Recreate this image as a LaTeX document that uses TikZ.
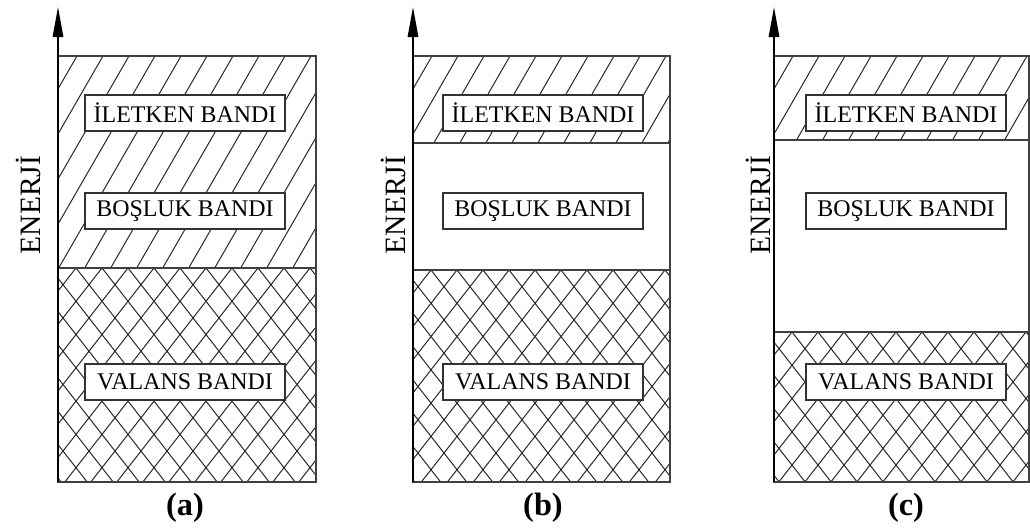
\documentclass[tikz,border=0pt]{standalone}
\usepackage{fontspec}
\setmainfont{Liberation Serif}
\usetikzlibrary{arrows.meta}

\begin{document}
\begin{tikzpicture}[
			x=0.025cm, y=-0.025cm,
			bandedge/.style={draw=black!75, line width=1.3pt},
			hatch/.style={black!85, line width=0.7pt},
			bandlabel/.style={rectangle, draw=black!80, fill=white, line width=1pt, minimum width=5cm, minimum height=0.9cm, inner sep=0pt, font=\fontsize{17}{19}\selectfont},
			axis/.style={-{Triangle[length=0.75cm, width=0.26cm]}, line width=1.2pt},
			enlabel/.style={rotate=90, font=\fontsize{21}{24}\selectfont},
			caption/.style={font=\bfseries\fontsize{23}{26}\selectfont}
			]
			\useasboundingbox (0,0) rectangle (1030,531);
			\foreach \ax/\rx/\cb/\vt/\lx/\ex/\nm in {58/316/268/268/185/28/a, 413/670/143/270/543/393/b, 774/1029/140/332/906/758/c} {
				% conduction band
				\begin{scope}
					\clip (\ax,56) rectangle (\rx,\cb);
					\foreach \k in {0,...,20}
						\draw[hatch] (\ax+\k*26+19,56) ++(-150,260) -- ++(300,-520);
				\end{scope}
				% valence band
				\begin{scope}
					\clip (\ax,\vt) rectangle (\rx,482);
					\foreach \k in {-8,...,20} {
						\draw[hatch] (\ax+\k*26+18,\vt) ++(-200,256) -- ++(400,-512);
						\draw[hatch] (\ax+\k*26+18,\vt) ++(-200,-256) -- ++(400,512);
					}
				\end{scope}
				\draw[bandedge] (\ax,56) rectangle (\rx,482);
				\draw[bandedge] (\ax,\cb) -- (\rx,\cb);
				\draw[bandedge] (\ax,\vt) -- (\rx,\vt);
				
				\node[bandlabel] (cond-\nm) at (\lx,113) {İLETKEN BANDI};
				\node[bandlabel] (gap-\nm) at (\lx,211) {BOŞLUK BANDI};
				\node[bandlabel] (val-\nm) at (\lx,382) {VALANS BANDI};
				
				\coordinate (base-\nm) at (\ax,482);
				\coordinate (tip-\nm) at (\ax,7);
				\draw[axis] (base-\nm) -- (tip-\nm);
				\node[enlabel] (energy-\nm) at (\ex,205) {ENERJİ};
				\node[caption] (cap-\nm) at (\lx,508) {(\nm)};
			}
		\end{tikzpicture}
\end{document}
